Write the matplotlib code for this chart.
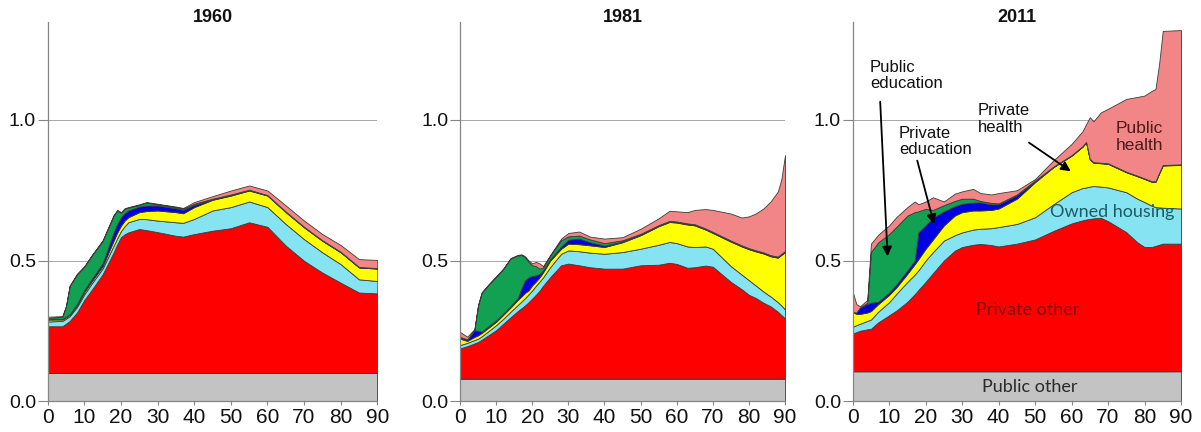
import numpy as np
import matplotlib
matplotlib.use("Agg")
import matplotlib.pyplot as plt

plt.rcParams['font.family'] = ['Liberation Sans', 'DejaVu Sans']

# Layers bottom to top and their colours
layers = ['Public other', 'Private other', 'Owned housing', 'Private health',
          'Private education', 'Public education', 'Public health']
colors = ['#c3c3c3', '#ff0000', '#86e4f2', '#ffff00', '#0000e0', '#12a052', '#f28686']

# Values are the upper edge of each stacked layer
# ---- 1960 ----
ages_1960 = [0, 4, 5, 6, 8, 10, 12, 15, 18, 19, 20, 21, 22, 25, 27, 30, 35, 37,
             40, 45, 50, 55, 60, 65, 70, 75, 80, 85, 90]
public_other_1960 = 0.10
private_other_1960 = [0.266, 0.266, 0.275, 0.285, 0.315, 0.360, 0.395, 0.451, 0.529, 0.558,
                      0.583, 0.593, 0.600, 0.612, 0.608, 0.601, 0.588, 0.585, 0.594, 0.606,
                      0.615, 0.636, 0.620, 0.553, 0.499, 0.457, 0.421, 0.386, 0.383]
owned_housing_1960 = [0.283, 0.285, 0.293, 0.302, 0.335, 0.380, 0.418, 0.472, 0.553, 0.580,
                      0.605, 0.622, 0.636, 0.648, 0.647, 0.642, 0.636, 0.634, 0.648, 0.678,
                      0.690, 0.710, 0.690, 0.630, 0.576, 0.529, 0.487, 0.433, 0.427]
private_health_1960 = [0.290, 0.290, 0.298, 0.307, 0.341, 0.388, 0.426, 0.480, 0.571, 0.600,
                       0.624, 0.642, 0.654, 0.672, 0.676, 0.678, 0.672, 0.668, 0.690, 0.716,
                       0.731, 0.749, 0.731, 0.672, 0.618, 0.570, 0.529, 0.475, 0.471]
private_educ_1960 = [0.291, 0.292, 0.300, 0.309, 0.345, 0.395, 0.434, 0.490, 0.600, 0.630,
                     0.654, 0.668, 0.678, 0.692, 0.696, 0.696, 0.686, 0.680, 0.698, 0.718,
                     0.733, 0.751, 0.732, 0.673, 0.619, 0.571, 0.530, 0.476, 0.472]
public_educ_1960 = [0.295, 0.300, 0.337, 0.409, 0.451, 0.478, 0.517, 0.570, 0.660, 0.678,
                    0.670, 0.684, 0.688, 0.698, 0.706, 0.700, 0.690, 0.684, 0.702, 0.720,
                    0.735, 0.752, 0.733, 0.674, 0.620, 0.572, 0.531, 0.477, 0.473]
public_health_1960 = [0.300, 0.302, 0.339, 0.411, 0.453, 0.480, 0.519, 0.572, 0.662, 0.680,
                      0.672, 0.686, 0.690, 0.700, 0.708, 0.702, 0.692, 0.687, 0.708, 0.729,
                      0.749, 0.767, 0.749, 0.696, 0.642, 0.594, 0.555, 0.505, 0.502]

# ---- 1981 ----
ages_1981 = [0, 2, 4, 5, 6, 8, 10, 12, 14, 16, 17, 18, 19, 20, 21, 22, 23, 25, 28, 30,
             33, 36, 40, 45, 50, 55, 58, 60, 63, 65, 68, 70, 75, 78, 80, 82, 84, 86, 88, 89, 90]
public_other_1981 = 0.08
private_other_1981 = [0.187, 0.195, 0.205, 0.210, 0.218, 0.235, 0.252, 0.275, 0.298, 0.320,
                      0.330, 0.340, 0.352, 0.365, 0.378, 0.392, 0.410, 0.441, 0.483, 0.489,
                      0.483, 0.476, 0.471, 0.471, 0.483, 0.485, 0.492, 0.488, 0.474, 0.476,
                      0.482, 0.478, 0.424, 0.398, 0.378, 0.366, 0.350, 0.337, 0.318, 0.306, 0.294]
owned_housing_1981 = [0.199, 0.207, 0.217, 0.222, 0.230, 0.250, 0.270, 0.293, 0.318, 0.342,
                      0.354, 0.366, 0.380, 0.394, 0.410, 0.425, 0.440, 0.477, 0.524, 0.536,
                      0.533, 0.528, 0.524, 0.530, 0.542, 0.556, 0.566, 0.562, 0.550, 0.548,
                      0.550, 0.542, 0.480, 0.450, 0.430, 0.410, 0.390, 0.372, 0.352, 0.340, 0.326]
private_health_1981 = [0.222, 0.214, 0.228, 0.234, 0.242, 0.262, 0.282, 0.307, 0.333, 0.360,
                       0.372, 0.385, 0.394, 0.412, 0.425, 0.440, 0.458, 0.500, 0.542, 0.560,
                       0.558, 0.554, 0.548, 0.565, 0.590, 0.622, 0.637, 0.635, 0.628, 0.625,
                       0.610, 0.598, 0.567, 0.550, 0.540, 0.532, 0.525, 0.515, 0.510, 0.520, 0.530]
private_educ_1981 = [0.226, 0.218, 0.252, 0.250, 0.247, 0.267, 0.287, 0.312, 0.338, 0.366,
                     0.400, 0.430, 0.440, 0.445, 0.447, 0.452, 0.465, 0.505, 0.550, 0.574,
                     0.578, 0.565, 0.553, 0.568, 0.592, 0.624, 0.639, 0.637, 0.630, 0.627,
                     0.612, 0.600, 0.569, 0.552, 0.542, 0.534, 0.527, 0.517, 0.512, 0.522, 0.532]
public_educ_1981 = [0.228, 0.220, 0.254, 0.340, 0.385, 0.415, 0.442, 0.470, 0.507, 0.518,
                    0.520, 0.512, 0.495, 0.483, 0.480, 0.471, 0.475, 0.518, 0.572, 0.586,
                    0.589, 0.575, 0.562, 0.572, 0.595, 0.626, 0.641, 0.639, 0.632, 0.629,
                    0.614, 0.602, 0.571, 0.554, 0.544, 0.536, 0.529, 0.519, 0.514, 0.524, 0.534]
public_health_1981 = [0.246, 0.229, 0.256, 0.342, 0.387, 0.417, 0.444, 0.472, 0.509, 0.520,
                      0.522, 0.515, 0.500, 0.490, 0.495, 0.490, 0.480, 0.520, 0.578, 0.598,
                      0.603, 0.585, 0.578, 0.583, 0.613, 0.650, 0.677, 0.675, 0.672, 0.680,
                      0.683, 0.680, 0.667, 0.653, 0.657, 0.668, 0.685, 0.710, 0.745, 0.790, 0.875]

# ---- 2011 ----
ages_2011 = [0, 1, 2, 4, 5, 7, 10, 12, 15, 17, 18, 20, 22, 25, 28, 30, 33, 35, 38, 40,
             45, 50, 55, 60, 63, 64, 65, 66, 68, 70, 75, 78, 80, 82, 83, 84, 85, 90]
public_other_2011 = 0.105
private_other_2011 = [0.240, 0.245, 0.250, 0.255, 0.257, 0.280, 0.305, 0.322, 0.353, 0.380,
                      0.395, 0.424, 0.455, 0.500, 0.535, 0.548, 0.556, 0.559, 0.555, 0.550,
                      0.560, 0.575, 0.605, 0.632, 0.643, 0.646, 0.648, 0.650, 0.652, 0.640,
                      0.601, 0.565, 0.548, 0.548, 0.552, 0.556, 0.560, 0.560]
owned_housing_2011 = [0.264, 0.270, 0.275, 0.285, 0.290, 0.318, 0.352, 0.382, 0.424, 0.450,
                      0.465, 0.500, 0.530, 0.571, 0.590, 0.600, 0.610, 0.613, 0.615, 0.619,
                      0.630, 0.654, 0.700, 0.743, 0.758, 0.760, 0.763, 0.765, 0.763, 0.760,
                      0.743, 0.720, 0.708, 0.695, 0.690, 0.689, 0.688, 0.685]
private_health_2011 = [0.317, 0.310, 0.310, 0.315, 0.320, 0.345, 0.378, 0.405, 0.453, 0.487,
                       0.505, 0.542, 0.575, 0.625, 0.660, 0.672, 0.678, 0.678, 0.680, 0.685,
                       0.720, 0.779, 0.832, 0.873, 0.905, 0.920, 0.860, 0.848, 0.846, 0.844,
                       0.814, 0.800, 0.790, 0.780, 0.780, 0.810, 0.838, 0.840]
private_educ_2011 = [0.317, 0.315, 0.333, 0.345, 0.350, 0.353, 0.386, 0.415, 0.465, 0.500,
                     0.600, 0.625, 0.652, 0.675, 0.693, 0.702, 0.706, 0.707, 0.700, 0.700,
                     0.732, 0.783, 0.833, 0.874, 0.906, 0.921, 0.861, 0.849, 0.847, 0.845,
                     0.815, 0.801, 0.791, 0.781, 0.781, 0.811, 0.839, 0.841]
public_educ_2011 = [0.317, 0.315, 0.333, 0.350, 0.530, 0.565, 0.594, 0.620, 0.660, 0.672,
                    0.675, 0.684, 0.680, 0.697, 0.712, 0.720, 0.720, 0.712, 0.705, 0.703,
                    0.735, 0.785, 0.834, 0.875, 0.907, 0.922, 0.862, 0.850, 0.848, 0.846,
                    0.816, 0.802, 0.792, 0.782, 0.782, 0.812, 0.840, 0.842]
public_health_2011 = [0.388, 0.345, 0.337, 0.360, 0.560, 0.592, 0.625, 0.655, 0.690, 0.710,
                      0.700, 0.710, 0.725, 0.710, 0.738, 0.746, 0.755, 0.740, 0.735, 0.740,
                      0.750, 0.790, 0.856, 0.915, 0.960, 0.985, 1.010, 0.995, 1.027, 1.040,
                      1.075, 1.082, 1.087, 1.104, 1.110, 1.200, 1.317, 1.320]

x_ticks = list(range(0, 91, 10))
y_ticks = [0.0, 0.5, 1.0]

panels = [
    ('1960', ages_1960, public_other_1960,
     [private_other_1960, owned_housing_1960, private_health_1960,
      private_educ_1960, public_educ_1960, public_health_1960]),
    ('1981', ages_1981, public_other_1981,
     [private_other_1981, owned_housing_1981, private_health_1981,
      private_educ_1981, public_educ_1981, public_health_1981]),
    ('2011', ages_2011, public_other_2011,
     [private_other_2011, owned_housing_2011, private_health_2011,
      private_educ_2011, public_educ_2011, public_health_2011]),
]

# axes placement in pixels: (x of age 0, x of age 90)
W, H = 1201, 432
axes_px = [(47.7, 377.3), (460.0, 785.0), (852.7, 1181.0)]
y0_px = 401
ytop = 1.35
px_per_unit = 281.0

fig = plt.figure(figsize=(W / 100, H / 100), dpi=100)
axes = []

for (title, ages, gray_top, tops), (xl, xr) in zip(panels, axes_px):
    ax = fig.add_axes([xl / W, (H - y0_px) / H, (xr - xl) / W, ytop * px_per_unit / H])
    axes.append(ax)
    ages = np.array(ages, dtype=float)

    # reference lines sit behind the areas
    for yv in (0.5, 1.0):
        ax.plot([0, 90], [yv, yv], color='#a6a6a6', lw=0.7, zorder=0)

    edges = [np.zeros_like(ages), np.full_like(ages, gray_top)] + [np.array(t) for t in tops]
    for i, c in enumerate(colors):
        ax.fill_between(ages, edges[i], edges[i + 1], facecolor=c,
                        edgecolor='#3b3b3b', linewidth=0.6, zorder=2)

    ax.set_xlim(0, 90)
    ax.set_ylim(0, ytop)
    ax.set_xticks(x_ticks)
    ax.set_yticks(y_ticks)
    ax.set_yticklabels(['0.0', '0.5', '1.0'])
    for s in ('top', 'right'):
        ax.spines[s].set_visible(False)
    for s in ('left', 'bottom'):
        ax.spines[s].set_color('#858585')
        ax.spines[s].set_linewidth(0.9)
    ax.tick_params(axis='y', length=7, width=0.8, color='#858585', pad=1.5,
                   labelsize=14, labelcolor='#111111')
    ax.tick_params(axis='x', length=3, width=0.8, color='#858585', pad=2,
                   labelsize=15, labelcolor='#111111')
    ax.patch.set_alpha(0)

    fig.text((xl + xr) / 2 / W, 1 - 18 / H, title, ha='center', va='center',
             fontsize=13, fontweight='bold', color='#111111')

# annotations on the 2011 panel
ax = axes[2]
ax.text(4.7, 1.215, 'Public\neducation', ha='left', va='top', fontsize=12,
        linespacing=1.15, color='#111111')
ax.annotate('', xy=(9.6, 0.505), xytext=(7.5, 1.075),
            arrowprops=dict(arrowstyle='-|>', color='black', lw=1.3, mutation_scale=14))
ax.text(12.7, 0.98, 'Private\neducation', ha='left', va='top', fontsize=12,
        linespacing=1.15, color='#111111')
ax.annotate('', xy=(22.5, 0.62), xytext=(17.5, 0.865),
            arrowprops=dict(arrowstyle='-|>', color='black', lw=1.3, mutation_scale=14))
ax.text(34.3, 1.06, 'Private\nhealth', ha='left', va='top', fontsize=12,
        linespacing=1.15, color='#111111')
ax.annotate('', xy=(60.4, 0.812), xytext=(47.7, 0.925),
            arrowprops=dict(arrowstyle='-|>', color='black', lw=1.3, mutation_scale=14))
ax.text(78.5, 0.94, 'Public\nhealth', ha='center', va='center', fontsize=12.5,
        linespacing=1.15, color='#4d1a1a')
ax.text(71, 0.672, 'Owned housing', ha='center', va='center', fontsize=13,
        color='#1c5b66', family=['Lato', 'DejaVu Sans'])
ax.text(48, 0.325, 'Private other', ha='center', va='center', fontsize=13,
        color='#8a0a0a', family=['Lato', 'DejaVu Sans'])
ax.text(48.5, 0.05, 'Public other', ha='center', va='center', fontsize=13,
        color='#2a2a2a', family=['Lato', 'DejaVu Sans'])

fig.savefig('out.png', dpi=100)
